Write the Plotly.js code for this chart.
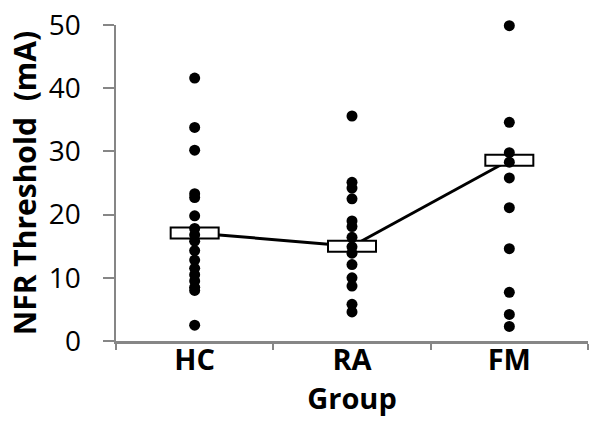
<!DOCTYPE html>
<html>
<head>
<meta charset="utf-8">
<script src="https://cdn.plot.ly/plotly-3.0.1.min.js"></script>
<style>html,body{margin:0;padding:0;background:#fff}#chart{width:600px;height:433px}</style>
</head>
<body>
<div id="chart"></div>
<script>
const groups = ["HC", "RA", "FM"];
const hcValues = [41.6, 33.8, 30.2, 23.3, 22.7, 19.8, 17.8, 16.8, 15.8, 14.3, 12.8, 11.5, 10.5, 9.5, 8.5, 8.0, 2.5];
const raValues = [35.6, 25.1, 24.2, 22.5, 19.0, 18.1, 16.4, 14.9, 13.9, 12.1, 10.0, 8.7, 5.8, 4.6];
const fmValues = [49.9, 34.6, 29.8, 28.3, 25.8, 21.1, 14.6, 7.7, 4.2, 2.3];
const groupMeans = [17.1, 15.0, 28.6];
const yTicks = [0, 10, 20, 30, 40, 50];

const seriesValues = [hcValues, raValues, fmValues];
const xs = [], ys = [];
seriesValues.forEach((vals, i) => vals.forEach(v => { xs.push(groups[i]); ys.push(v); }));

const shapes = [];
for (let i = 0; i < groups.length - 1; i++) {
  shapes.push({type: "line", xref: "x", yref: "y", layer: "below",
    x0: groups[i], y0: groupMeans[i], x1: groups[i + 1], y1: groupMeans[i + 1],
    line: {color: "#000", width: 3}});
}
groups.forEach((g, i) => {
  shapes.push({type: "rect", xref: "x", yref: "y", layer: "below",
    xsizemode: "pixel", xanchor: g, x0: -24, x1: 24,
    ysizemode: "pixel", yanchor: groupMeans[i], y0: -5.5, y1: 5.5,
    fillcolor: "#fff", line: {color: "#000", width: 2}});
});

const data = [{
  type: "scatter", mode: "markers", x: xs, y: ys,
  marker: {color: "#000", size: 11},
  cliponaxis: false,
  hoverinfo: "skip", showlegend: false
}];

const axisGrey = "#868686";
const layout = {
  width: 600, height: 433,
  margin: {l: 116, r: 12, t: 25, b: 92},
  paper_bgcolor: "#fff", plot_bgcolor: "#fff",
  font: {family: "Open Sans, sans-serif", color: "#000"},
  showlegend: false,
  xaxis: {
    type: "category", categoryorder: "array", categoryarray: groups,
    range: [-0.5, 2.5], tickson: "boundaries",
    showline: true, linecolor: axisGrey, linewidth: 2.5,
    ticks: "outside", ticklen: 6, tickwidth: 2, tickcolor: axisGrey,
    showgrid: false, zeroline: false,
    tickfont: {size: 29, family: "Open Sans, sans-serif", weight: "bold"},
    ticklabelstandoff: -8,
    title: {text: "<b>Group</b>", font: {size: 29}, standoff: 4}
  },
  yaxis: {
    range: [0, 50], tickvals: yTicks, ticktext: yTicks.map(String),
    showline: true, linecolor: axisGrey, linewidth: 2.5,
    ticks: "outside", ticklen: 11, tickwidth: 2, tickcolor: axisGrey,
    showgrid: false, zeroline: false,
    tickfont: {size: 28},
    ticklabelstandoff: 16,
    title: {text: "<b>NFR Threshold  (mA)</b>", font: {size: 30}, standoff: 4}
  },
  shapes: shapes
};

Plotly.newPlot("chart", data, layout, {displayModeBar: false, staticPlot: true});
</script>
</body>
</html>
